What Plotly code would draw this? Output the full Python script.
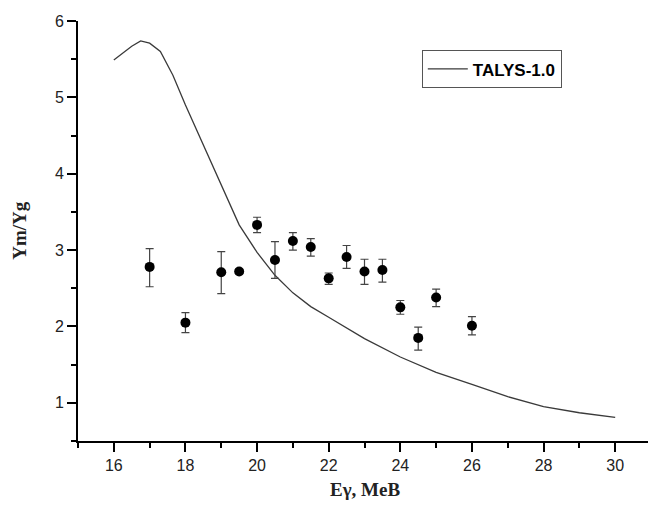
import plotly.graph_objects as go

# Experimental data
energy = [17, 18, 19, 19.5, 20, 20.5, 21, 21.5, 22, 22.5, 23, 23.5, 24, 24.5, 25, 26]
ratio = [2.78, 2.05, 2.71, 2.72, 3.33, 2.87, 3.12, 3.04, 2.63, 2.91, 2.72, 2.74, 2.25, 1.85, 2.38, 2.01]
err_plus = [0.24, 0.13, 0.27, 0.03, 0.10, 0.24, 0.11, 0.11, 0.07, 0.15, 0.16, 0.14, 0.09, 0.14, 0.11, 0.12]
err_minus = [0.26, 0.13, 0.28, 0.03, 0.10, 0.24, 0.12, 0.12, 0.08, 0.15, 0.17, 0.16, 0.09, 0.16, 0.12, 0.12]

# TALYS-1.0 calculation
talys_e = [16, 16.5, 16.75, 17, 17.3, 17.65, 18, 18.5, 19, 19.5, 20, 20.5, 21, 21.5, 22, 23, 24, 25, 26, 27, 28, 29, 30]
talys_r = [5.49, 5.67, 5.74, 5.71, 5.60, 5.29, 4.90, 4.38, 3.84, 3.33, 2.97, 2.67, 2.44, 2.26, 2.12, 1.84, 1.60, 1.40, 1.24, 1.08, 0.95, 0.87, 0.81]

fig = go.Figure()

fig.add_trace(go.Scatter(
    x=talys_e, y=talys_r, mode="lines", name="TALYS-1.0",
    line=dict(color="#3a3a3a", width=1.3),
))

fig.add_trace(go.Scatter(
    x=energy, y=ratio, mode="markers", showlegend=False,
    marker=dict(color="black", size=10, symbol="circle"),
    error_y=dict(type="data", symmetric=False, array=err_plus, arrayminus=err_minus,
                 color="#444444", thickness=1.2, width=4),
))

tickfont = dict(family="Liberation Sans, Arial", size=16, color="#222222")

fig.update_layout(
    width=648, height=502,
    margin=dict(l=70, r=5, t=11, b=69),
    paper_bgcolor="white", plot_bgcolor="white",
    showlegend=True,
    legend=dict(
        x=0.6, y=0.93, xanchor="left", yanchor="top",
        bordercolor="#555555", borderwidth=1, bgcolor="white",
        font=dict(family="Liberation Sans, Arial", size=17, color="black", weight="bold"),
        itemwidth=40, tracegroupgap=0,
    ),
    xaxis=dict(
        range=[15, 31], tick0=16, dtick=2,
        showline=True, linecolor="black", linewidth=2,
        ticks="outside", ticklen=9, tickwidth=2, tickcolor="black",
        tickfont=tickfont, showgrid=False, zeroline=False,
        minor=dict(dtick=1, tick0=15, ticks="outside", ticklen=5, tickwidth=2, tickcolor="black", showgrid=False),
    ),
    yaxis=dict(
        range=[0.5, 6], tick0=1, dtick=1,
        showline=True, linecolor="black", linewidth=2,
        ticks="outside", ticklen=9, tickwidth=2, tickcolor="black",
        tickfont=tickfont, showgrid=False, zeroline=False,
        minor=dict(dtick=0.5, tick0=0.5, ticks="outside", ticklen=5, tickwidth=2, tickcolor="black", showgrid=False),
    ),
    annotations=[
        dict(text="<b>Ym/Yg</b>", xref="paper", yref="paper", x=-0.102, y=0.502,
             xanchor="center", yanchor="middle", textangle=-90, showarrow=False,
             font=dict(family="Liberation Serif, Times New Roman", size=19, color="#222222")),
        dict(text="<b>Eγ, MeB</b>", xref="paper", yref="paper", x=0.5, y=-0.116,
             xanchor="center", yanchor="middle", showarrow=False,
             font=dict(family="Liberation Serif, Times New Roman", size=19, color="#222222")),
    ],
)

fig.write_html("out.html")
